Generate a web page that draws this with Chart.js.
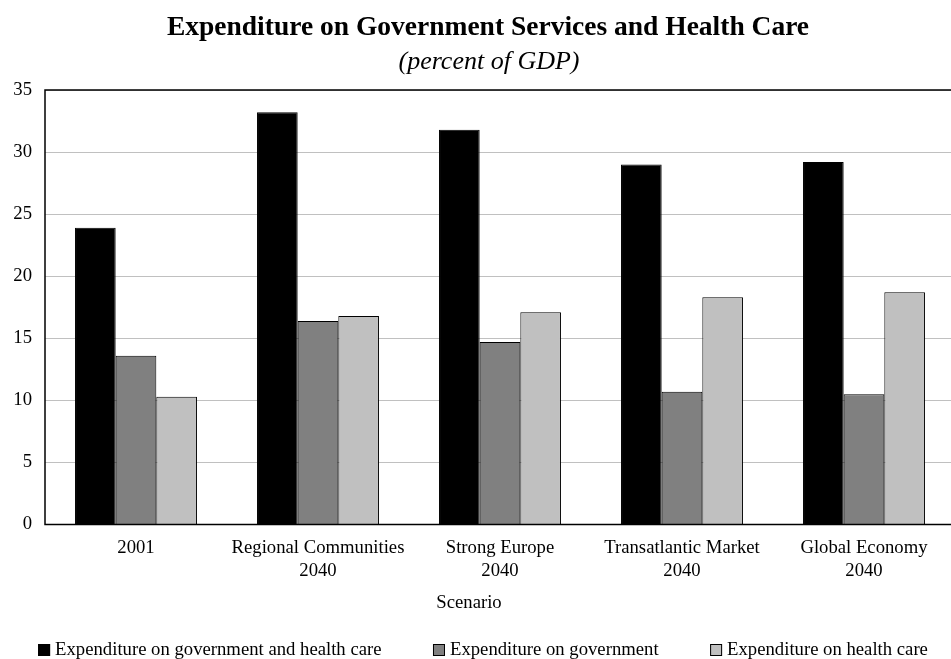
<!DOCTYPE html>
<html>
<head>
<meta charset="utf-8">
<title>Expenditure on Government Services and Health Care</title>
<script src="https://cdn.jsdelivr.net/npm/chart.js@4.4.0/dist/chart.umd.min.js"></script>
<style>
  html, body { margin: 0; padding: 0; background: #fff; overflow: hidden; }
  #grafico { display: block; }
</style>
</head>
<body>
<canvas id="grafico" width="974" height="659"></canvas>
<script>
// Datos del grafico (percent of GDP)
const escenarios = [
    ['2001'],
    ['Regional Communities', '2040'],
    ['Strong Europe', '2040'],
    ['Transatlantic Market', '2040'],
    ['Global Economy', '2040']
];
const gastoTotal = [23.9, 33.2, 31.8, 29.0, 29.2];
const gastoGobierno = [13.6, 16.4, 14.7, 10.7, 10.5];
const gastoSalud = [10.3, 16.8, 17.1, 18.3, 18.7];
const ticksY = [0, 5, 10, 15, 20, 25, 30, 35];

const titulo = 'Expenditure on Government Services and Health Care';
const subtitulo = '(percent of GDP)';
const tituloEjeX = 'Scenario';

const fuente = "'Liberation Serif', 'Times New Roman', serif";

// Titulos, marco del area del grafico, titulo del eje y leyenda
const marcoPlugin = {
    id: 'marco',
    beforeDraw(chart) {
        const ctx = chart.ctx;
        ctx.save();
        ctx.fillStyle = '#fff';
        ctx.fillRect(0, 0, chart.width, chart.height);
        ctx.restore();
    },
    afterDatasetsDraw(chart) {
        const a = chart.chartArea;
        const ctx = chart.ctx;
        ctx.save();
        ctx.strokeStyle = '#000';
        ctx.lineWidth = 1.5;
        ctx.strokeRect(a.left, a.top, a.right - a.left, a.bottom - a.top);
        ctx.restore();
    },
    afterDraw(chart) {
        const a = chart.chartArea;
        const ctx = chart.ctx;
        ctx.save();
        ctx.fillStyle = '#000';
        ctx.textBaseline = 'middle';
        ctx.textAlign = 'center';

        // titulo y subtitulo
        ctx.font = 'bold 27.5px ' + fuente;
        ctx.fillText(titulo, 488, 28);
        ctx.font = 'italic 26px ' + fuente;
        ctx.fillText(subtitulo, 489, 62);

        // titulo del eje x
        ctx.font = '18.7px ' + fuente;
        ctx.fillText(tituloEjeX, (a.left + a.right) / 2 - 31, a.bottom + 79);

        // leyenda
        const caja = 12, sep = 5, hueco = 51.5;
        const items = chart.data.datasets.map(d => ({
            d: d,
            w: caja + sep + ctx.measureText(d.label).width
        }));
        const total = items.reduce((s, it) => s + it.w, 0) + hueco * (items.length - 1);
        let x = 483 - total / 2;
        const y = chart.height - 9;
        ctx.textAlign = 'left';
        items.forEach(it => {
            ctx.fillStyle = it.d.backgroundColor;
            ctx.fillRect(x, y - caja / 2, caja, caja);
            ctx.strokeStyle = '#000';
            ctx.lineWidth = 1;
            ctx.strokeRect(x + 0.5, y - caja / 2 + 0.5, caja - 1, caja - 1);
            ctx.fillStyle = '#000';
            ctx.fillText(it.d.label, x + caja + sep, y);
            x += it.w + hueco;
        });
        ctx.restore();
    }
};

const ctx = document.getElementById('grafico').getContext('2d');
const grafico = new Chart(ctx, {
    type: 'bar',
    data: {
        labels: escenarios,
        datasets: [
            {
                label: 'Expenditure on government and health care',
                data: gastoTotal,
                backgroundColor: '#000000',
                borderColor: '#000000',
                borderWidth: 1
            },
            {
                label: 'Expenditure on government',
                data: gastoGobierno,
                backgroundColor: '#808080',
                borderColor: '#000000',
                borderWidth: 1
            },
            {
                label: 'Expenditure on health care',
                data: gastoSalud,
                backgroundColor: '#c0c0c0',
                borderColor: '#000000',
                borderWidth: 1
            }
        ]
    },
    options: {
        responsive: false,
        animation: false,
        devicePixelRatio: 1,
        layout: { padding: { left: 0, right: 19, top: 90, bottom: 63.5 } },
        datasets: {
            bar: { categoryPercentage: 0.67, barPercentage: 1.0 }
        },
        plugins: {
            legend: { display: false },
            tooltip: { enabled: false },
            title: { display: false }
        },
        scales: {
            x: {
                grid: { display: false, drawTicks: false },
                border: { display: false },
                ticks: {
                    color: '#000',
                    padding: 12.5,
                    maxRotation: 0,
                    autoSkip: false,
                    font: { family: fuente, size: 18.7, lineHeight: 1.23 }
                }
            },
            y: {
                min: 0,
                max: 35,
                afterFit: function(scale) { scale.width = 45; },
                afterBuildTicks: function(scale) {
                    scale.ticks = ticksY.map(v => ({ value: v }));
                },
                grid: { color: '#c0c0c0', lineWidth: 1, drawTicks: false },
                border: { display: false },
                ticks: {
                    color: '#000',
                    padding: 13,
                    font: { family: fuente, size: 18.7 }
                }
            }
        }
    },
    plugins: [marcoPlugin]
});
</script>
</body>
</html>
